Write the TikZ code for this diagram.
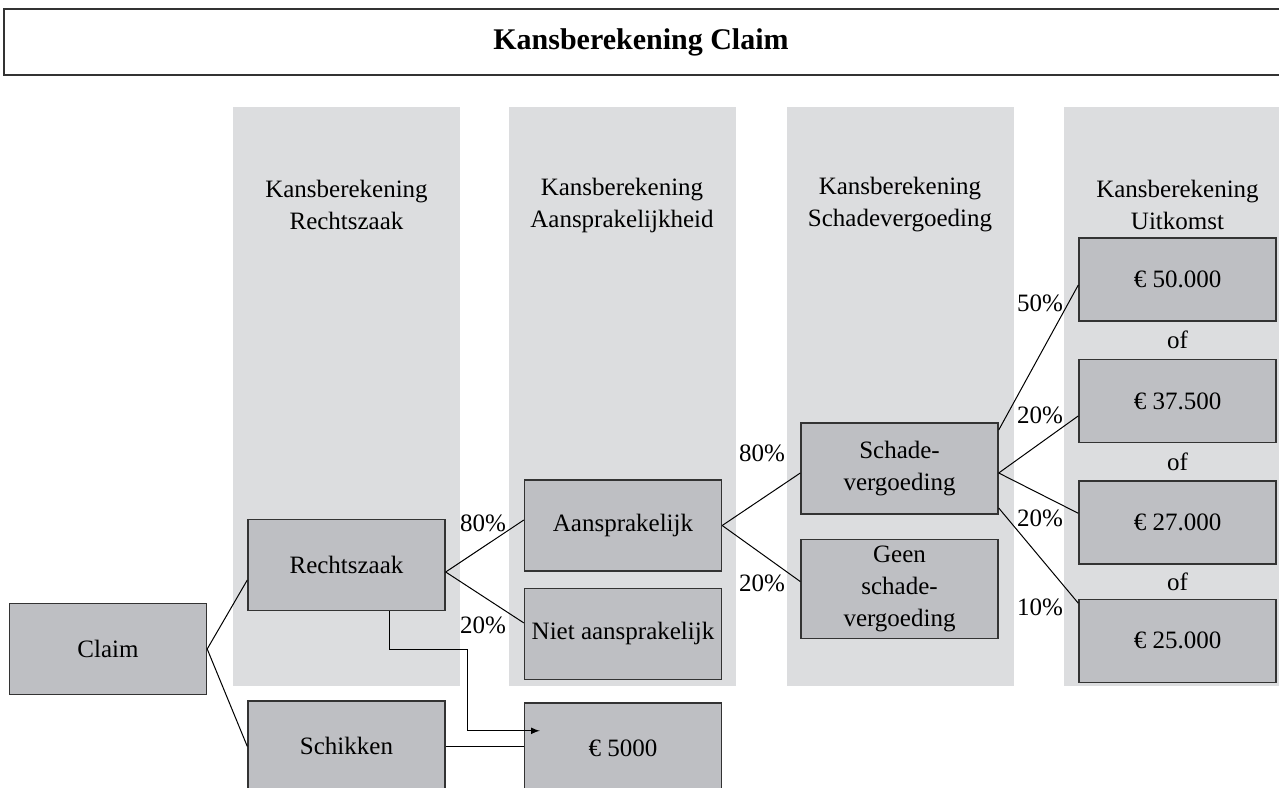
\documentclass[tikz,border=0pt]{standalone}
\usepackage{fontspec}
\setmainfont{Liberation Serif}
\usepackage{tikz}
\definecolor{colgray}{RGB}{220,221,223}
\definecolor{boxgray}{RGB}{190,191,195}
\tikzstyle{column}=[rectangle,fill=colgray,minimum width=113.5pt,
minimum height=289.5pt,inner sep=0pt]
\tikzstyle{header}=[align=center,font=\fontsize{12.5}{16}\selectfont]
\tikzstyle{stage}=[rectangle,draw=black!80,line width=0.7pt,fill=boxgray,
minimum width=98.5pt,minimum height=45.5pt,align=center,font=\fontsize{12.5}{16}\selectfont]
\tikzstyle{outcome}=[stage,minimum height=41.5pt]
\tikzstyle{pct}=[inner sep=0pt,font=\fontsize{12.5}{15}\selectfont]
\tikzstyle{titlebox}=[rectangle,draw=black!80,line width=0.7pt,
minimum width=646pt,minimum height=33pt,font=\fontsize{15}{18}\selectfont\bfseries]
\usetikzlibrary{arrows,positioning}

\begin{document}
\begin{tikzpicture}[x=0.5pt,y=-0.5pt,node distance=18.5pt,>=latex,
            every edge/.style={draw,line width=0.5pt}]
            \useasboundingbox (0,0) rectangle (1279,787);

            % TITLE PART

            \node[titlebox] (title) at (650,42) {\hspace*{-9pt}Kansberekening Claim};

            % COLUMNS PART

            \node[column] (col1) at (346.5,396.5) {};
            \node[column] (col2) at (622,396.5) {};
            \node[column] (col3) at (900,396.5) {};
            \node[column] (col4) at (1177.5,396.5) {};

            \node[header] (h1) at (346.5,205) {Kansberekening\\Rechtszaak};
            \node[header] (h2) at (622,205) {Kansberekening\\Aansprakelijkheid};
            \node[header] (h3) at (900,205) {Kansberekening\\Schadevergoeding};
            \node[header] (h4) at (1177.5,205) {Kansberekening\\Uitkomst};

            % Rechtszaak PART

            \node[stage] (claim) at (108,649) {Claim};
            \node[stage] (rechtszaak) at (346.5,565) {Rechtszaak};
            \node[stage, below=44.5pt of rechtszaak] (schikken) {Schikken};

            \path (claim.east) edge ([yshift=-7.5pt]rechtszaak.west);
            \path (claim.east) edge (schikken.west);

            % Aansprakelijkheid PART

            \node[stage] (aansprakelijk) at (623,525.5) {Aansprakelijk};
            \node[stage, below=8pt of aansprakelijk] (niet) {Niet aansprakelijk};
            \node[stage, below=11pt of niet] (schikking) {€~5000};

            \path ([yshift=-3.5pt]rechtszaak.east) edge ([yshift=2.75pt]aansprakelijk.west);
            \path ([yshift=-3.5pt]rechtszaak.east) edge ([yshift=5.5pt]niet.west);
            \path (schikken.east) edge (schikken.east -| schikking.west);

            \coordinate (bend) at (467,649);
            \draw[-latex,line width=0.5pt] ([xshift=21.25pt]rechtszaak.south) |- (bend)
                |- ([xshift=8pt,yshift=8.75pt]schikking.west);

            \node[pct] (p1) at (483,523) {80\%};
            \node[pct] (p2) at (483,625) {20\%};

            % Schadevergoeding PART

            \node[stage] (schade) at (899.5,468.5) {Schade-\\vergoeding};
            \node[stage, below=12pt of schade] (geen) {Geen\\schade-\\vergoeding};

            \path (aansprakelijk.east) edge ([yshift=-2.25pt]schade.west);
            \path (aansprakelijk.east) edge ([yshift=3.75pt]geen.west);

            \node[pct] (p3) at (762,453) {80\%};
            \node[pct] (p4) at (762,583) {20\%};

            % Uitkomst PART

            \node[outcome] (o1) at (1177.5,279.5) {€~50.000};
            \node[outcome, below=18.5pt of o1] (o2) {€~37.500};
            \node[outcome, below=18.5pt of o2] (o3) {€~27.000};
            \node[outcome, below=17pt of o3] (o4) {€~25.000};

            \path (o1) -- node[pct] (of1) {of} (o2);
            \path (o2) -- node[pct] (of2) {of} (o3);
            \path (o3) -- node[pct] (of3) {of} (o4);

            \path ([yshift=19.25pt]schade.east) edge ([yshift=-2.75pt]o1.west);
            \path ([yshift=-2.25pt]schade.east) edge ([yshift=-7.5pt]o2.west);
            \path ([yshift=-2.25pt]schade.east) edge ([yshift=4.5pt]o3.west);
            \path ([yshift=-19.75pt]schade.east) edge ([yshift=18.75pt]o4.west);

            \node[pct] (p5) at (1040,303) {50\%};
            \node[pct] (p6) at (1040,415) {20\%};
            \node[pct] (p7) at (1040,518) {20\%};
            \node[pct] (p8) at (1040,607) {10\%};

\end{tikzpicture}
\end{document}
